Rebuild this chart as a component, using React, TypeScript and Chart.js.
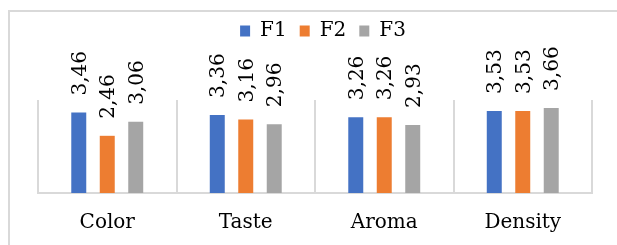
import React, { useEffect, useRef } from "react";
import { Chart, registerables } from "chart.js";

Chart.register(...registerables);

const categories = ["Color", "Taste", "Aroma", "Density"];
const seriesNames = ["F1", "F2", "F3"];
const f1Values = [3.46, 3.36, 3.26, 3.53];
const f2Values = [2.46, 3.16, 3.26, 3.53];
const f3Values = [3.06, 2.96, 2.93, 3.66];
const seriesColors = ["#4472C4", "#ED7D31", "#A5A5A5"];
const yMin = 0;
const yMax = 4;

const FONT = "'DejaVu Serif', serif";
const TEXT_COLOR = "#000000";
const LINE_COLOR = "#d9d9d9";

const frameBorder = {
  id: "frameBorder",
  beforeDraw(chart: any) {
    const { ctx, width, height } = chart;
    ctx.save();
    ctx.fillStyle = "#ffffff";
    ctx.fillRect(0, 0, width, height);
    ctx.strokeStyle = LINE_COLOR;
    ctx.lineWidth = 2;
    ctx.strokeRect(9, 11, width + 20, height + 20);
    ctx.restore();
  },
};

const legendShift = {
  id: "legendShift",
  afterLayout(chart: any) {
    if (chart.legend) {
      chart.legend.left += 8;
      chart.legend.right += 8;
    }
  },
};

const rotatedLabels = {
  id: "rotatedLabels",
  afterDatasetsDraw(chart: any) {
    const { ctx } = chart;
    ctx.save();
    ctx.font = `20px ${FONT}`;
    ctx.fillStyle = TEXT_COLOR;
    ctx.textAlign = "left";
    ctx.textBaseline = "middle";
    chart.data.datasets.forEach((ds: any, di: number) => {
      const meta = chart.getDatasetMeta(di);
      meta.data.forEach((bar: any, i: number) => {
        const v = ds.data[i] as number;
        const txt = v.toFixed(2).replace(".", ",");
        ctx.save();
        ctx.translate(bar.x + 2, bar.y - 17);
        ctx.rotate(-Math.PI / 2);
        ctx.fillText(txt, 0, 0);
        ctx.restore();
      });
    });
    ctx.restore();
  },
};

export default function App() {
  const ref = useRef<HTMLCanvasElement | null>(null);

  useEffect(() => {
    document.body.style.margin = "0";
    const canvas = ref.current!;
    const chart = new Chart(canvas, {
      type: "bar",
      data: {
        labels: categories,
        datasets: [f1Values, f2Values, f3Values].map((d, i) => ({
          label: seriesNames[i],
          data: d,
          backgroundColor: seriesColors[i],
          borderWidth: 0,
          categoryPercentage: 0.617,
          barPercentage: 0.526,
        })),
      },
      options: {
        responsive: false,
        animation: false,
        devicePixelRatio: 1,
        layout: { padding: { left: 38, right: 25, top: 8, bottom: -8 } },
        plugins: {
          tooltip: { enabled: false },
          legend: {
            display: true,
            position: "top",
            labels: {
              boxWidth: 10,
              boxHeight: 11,
              padding: 13,
              color: TEXT_COLOR,
              font: { family: FONT, size: 20 },
            },
          },
          subtitle: {
            display: true,
            text: " ",
            weight: 500,
            font: { size: 10 },
            padding: { top: 0, bottom: 37 },
          } as any,
        },
        scales: {
          x: {
            grid: {
              display: true,
              offset: true,
              color: LINE_COLOR,
              lineWidth: 2,
              drawTicks: false,
            },
            border: { display: true, color: LINE_COLOR, width: 2 },
            ticks: {
              color: TEXT_COLOR,
              font: { family: FONT, size: 20 },
              padding: 18,
            },
          },
          y: {
            display: false,
            min: yMin,
            max: yMax,
          },
        },
      },
      plugins: [frameBorder, legendShift, rotatedLabels],
    });
    return () => chart.destroy();
  }, []);

  return (
    <div style={{ position: "fixed", left: 0, top: 0, width: 617, height: 245 }}>
      <canvas ref={ref} width={617} height={245} style={{ display: "block" }} />
    </div>
  );
}
